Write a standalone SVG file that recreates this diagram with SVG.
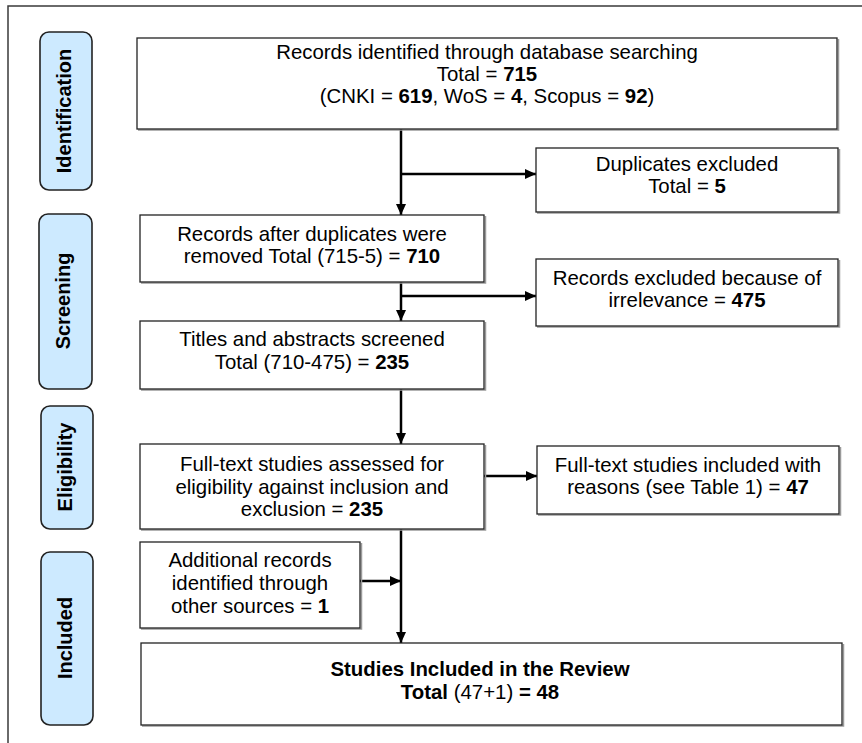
<svg xmlns="http://www.w3.org/2000/svg" width="862" height="743" viewBox="0 0 862 743">
<style>
  .frame{fill:#fff;stroke:#3a3a3a;stroke-width:1.5}
  .stage{fill:#cdeaff;stroke:#222;stroke-width:1.6}
  .stxt{font-family:"Liberation Sans",Arial,sans-serif;font-size:20px;font-weight:bold;fill:#000;text-anchor:middle}
  .box{fill:#fff;stroke:#222;stroke-width:1.3}
  .shadow{fill:none;stroke:#9a9a9a;stroke-width:1.5}
  .t{font-family:"Liberation Sans",Arial,sans-serif;font-size:20.4px;fill:#000;text-anchor:middle}
  .b{font-weight:bold}
  .conn{fill:none;stroke:#000;stroke-width:2.5}
</style>
<defs>
  <marker id="arr" markerUnits="userSpaceOnUse" markerWidth="11" markerHeight="10" refX="11" refY="5" orient="auto">
    <path d="M0,0 L11,5 L0,10 z" fill="#000"/>
  </marker>
</defs>
<rect class="frame" x="8" y="6" width="900" height="800"/>

<g id="stage-identification">
  <rect class="stage" x="40" y="32" width="52" height="158" rx="9"/>
  <text class="stxt" transform="translate(71,111) rotate(-90)">Identification</text>
</g>
<g id="stage-screening">
  <rect class="stage" x="39" y="214" width="53" height="175" rx="9"/>
  <text class="stxt" transform="translate(70,301) rotate(-90)">Screening</text>
</g>
<g id="stage-eligibility">
  <rect class="stage" x="41" y="406" width="52" height="123" rx="9"/>
  <text class="stxt" transform="translate(72,467) rotate(-90)">Eligibility</text>
</g>
<g id="stage-included">
  <rect class="stage" x="41" y="552" width="52" height="173" rx="9"/>
  <text class="stxt" transform="translate(72,638) rotate(-90)">Included</text>
</g>

<g id="connectors">
  <path class="conn" d="M401,129 V215" marker-end="url(#arr)"/>
  <path class="conn" d="M401,174 H536" marker-end="url(#arr)"/>
  <path class="conn" d="M401,282 V321" marker-end="url(#arr)"/>
  <path class="conn" d="M401,296 H536" marker-end="url(#arr)"/>
  <path class="conn" d="M401,389 V444" marker-end="url(#arr)"/>
  <path class="conn" d="M484,476 H537" marker-end="url(#arr)"/>
  <path class="conn" d="M401,529 V643" marker-end="url(#arr)"/>
  <path class="conn" d="M360,581 H401" marker-end="url(#arr)"/>
</g>

<g id="records-identified">
  <path class="shadow" d="M838.5,39 V130 H138"/>
  <rect class="box" x="137" y="38" width="700" height="91"/>
  <text class="t" x="487" y="59">Records identified through database searching</text>
  <text class="t" x="487" y="81">Total = <tspan class="b">715</tspan></text>
  <text class="t" x="487" y="103">(CNKI = <tspan class="b">619</tspan>, WoS = <tspan class="b">4</tspan>, Scopus = <tspan class="b">92</tspan>)</text>
</g>
<g id="duplicates-excluded">
  <path class="shadow" d="M839.5,149 V213 H537"/>
  <rect class="box" x="536" y="148" width="302" height="64"/>
  <text class="t" x="687" y="171">Duplicates excluded</text>
  <text class="t" x="687" y="193">Total = <tspan class="b">5</tspan></text>
</g>
<g id="records-after-duplicates">
  <path class="shadow" d="M485.5,216 V283 H141"/>
  <rect class="box" x="140" y="215" width="344" height="67"/>
  <text class="t" x="312" y="241">Records after duplicates were</text>
  <text class="t" x="312" y="263">removed Total (715-5) = <tspan class="b">710</tspan></text>
</g>
<g id="records-excluded">
  <path class="shadow" d="M839.5,260 V327 H537"/>
  <rect class="box" x="536" y="259" width="302" height="67"/>
  <text class="t" x="687" y="285">Records excluded because of</text>
  <text class="t" x="687" y="307">irrelevance = <tspan class="b">475</tspan></text>
</g>
<g id="titles-abstracts">
  <path class="shadow" d="M485.5,322 V390 H141"/>
  <rect class="box" x="140" y="321" width="344" height="68"/>
  <text class="t" x="312" y="346">Titles and abstracts screened</text>
  <text class="t" x="312" y="369">Total (710-475) = <tspan class="b">235</tspan></text>
</g>
<g id="full-text-assessed">
  <path class="shadow" d="M485.5,445 V530 H141"/>
  <rect class="box" x="140" y="444" width="344" height="85"/>
  <text class="t" x="312" y="471">Full-text studies assessed for</text>
  <text class="t" x="312" y="494">eligibility against inclusion and</text>
  <text class="t" x="312" y="516">exclusion = <tspan class="b">235</tspan></text>
</g>
<g id="full-text-included">
  <path class="shadow" d="M840.5,447 V515 H538"/>
  <rect class="box" x="537" y="446" width="302" height="68"/>
  <text class="t" x="688" y="472">Full-text studies included with</text>
  <text class="t" x="688" y="494">reasons (see Table 1) = <tspan class="b">47</tspan></text>
</g>
<g id="additional-records">
  <path class="shadow" d="M361.5,543 V629 H141"/>
  <rect class="box" x="140" y="542" width="220" height="86"/>
  <text class="t" x="250" y="567">Additional records</text>
  <text class="t" x="250" y="590">identified through</text>
  <text class="t" x="250" y="613">other sources = <tspan class="b">1</tspan></text>
</g>
<g id="studies-included">
  <path class="shadow" d="M843.5,644 V726 H142"/>
  <rect class="box" x="141" y="643" width="701" height="82"/>
  <text class="t b" x="480" y="676">Studies Included in the Review</text>
  <text class="t" x="480" y="699"><tspan class="b">Total</tspan> (47+1) <tspan class="b">= 48</tspan></text>
</g>
</svg>
